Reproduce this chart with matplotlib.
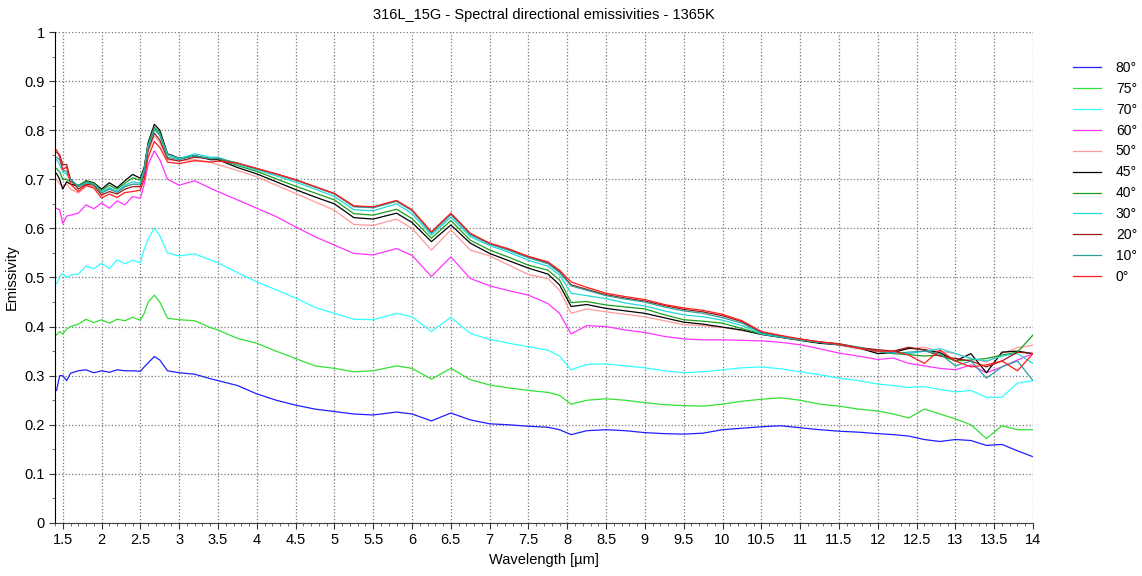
import matplotlib
matplotlib.use("Agg")
import matplotlib.pyplot as plt
from matplotlib.ticker import MultipleLocator, FuncFormatter

plt.rcParams['font.family'] = ['Liberation Sans', 'DejaVu Sans']

## Data
wl = [1.42, 1.46, 1.5, 1.55, 1.6, 1.7, 1.8, 1.9, 2.0, 2.1,
      2.2, 2.3, 2.4, 2.5, 2.55, 2.6, 2.68, 2.75, 2.85, 3.0,
      3.2, 3.4, 3.5, 3.75, 4.0, 4.25, 4.5, 4.75, 5.0, 5.25,
      5.5, 5.8, 6.0, 6.25, 6.5, 6.75, 7.0, 7.25, 7.5, 7.75,
      7.9, 8.05, 8.25, 8.5, 8.75, 9.0, 9.25, 9.5, 9.75, 10.0,
      10.25, 10.5, 10.75, 11.0, 11.25, 11.5, 11.75, 12.0, 12.2, 12.4,
      12.6, 12.8, 13.0, 13.2, 13.4, 13.6, 13.8, 14.0]

em_80 = [0.27, 0.30, 0.30, 0.29, 0.305, 0.31, 0.312, 0.306, 0.31, 0.307,
         0.312, 0.31, 0.31, 0.309, 0.318, 0.326, 0.339, 0.332, 0.31, 0.306,
         0.303, 0.294, 0.29, 0.28, 0.263, 0.25, 0.24, 0.232, 0.227, 0.222,
         0.22, 0.226, 0.222, 0.208, 0.224, 0.21, 0.202, 0.2, 0.197, 0.195,
         0.19, 0.18, 0.188, 0.19, 0.188, 0.184, 0.182, 0.181, 0.183, 0.19,
         0.193, 0.196, 0.198, 0.194, 0.19, 0.187, 0.185, 0.182, 0.18, 0.177,
         0.17, 0.166, 0.17, 0.168, 0.158, 0.16, 0.147, 0.135]

em_75 = [0.383, 0.39, 0.385, 0.395, 0.40, 0.405, 0.415, 0.408, 0.414, 0.407,
         0.415, 0.412, 0.419, 0.413, 0.427, 0.45, 0.464, 0.45, 0.417, 0.414,
         0.412, 0.398, 0.393, 0.376, 0.366, 0.35, 0.335, 0.32, 0.315, 0.308,
         0.31, 0.32, 0.315, 0.293, 0.315, 0.292, 0.281, 0.275, 0.27, 0.266,
         0.26, 0.242, 0.25, 0.253, 0.25, 0.245, 0.241, 0.239, 0.238, 0.242,
         0.248, 0.252, 0.255, 0.25, 0.242, 0.238, 0.232, 0.228, 0.222, 0.214,
         0.232, 0.222, 0.212, 0.2, 0.172, 0.198, 0.19, 0.19]

em_70 = [0.487, 0.502, 0.508, 0.50, 0.505, 0.507, 0.523, 0.518, 0.529, 0.518,
         0.536, 0.528, 0.535, 0.53, 0.558, 0.578, 0.601, 0.585, 0.55, 0.544,
         0.548, 0.536, 0.53, 0.51, 0.491, 0.475, 0.458, 0.439, 0.427, 0.415,
         0.414, 0.427, 0.42, 0.39, 0.419, 0.386, 0.374, 0.366, 0.359, 0.352,
         0.34, 0.312, 0.323, 0.324, 0.32, 0.316, 0.31, 0.306, 0.308, 0.312,
         0.316, 0.318, 0.314, 0.308, 0.302, 0.295, 0.29, 0.283, 0.28, 0.276,
         0.278, 0.272, 0.267, 0.27, 0.256, 0.256, 0.285, 0.29]

em_60 = [0.641, 0.638, 0.61, 0.625, 0.627, 0.631, 0.648, 0.64, 0.652, 0.641,
         0.656, 0.648, 0.665, 0.661, 0.69, 0.73, 0.758, 0.74, 0.70, 0.688,
         0.697, 0.682, 0.675, 0.658, 0.641, 0.624, 0.603, 0.583, 0.566, 0.549,
         0.546, 0.559, 0.545, 0.502, 0.542, 0.498, 0.483, 0.473, 0.464, 0.447,
         0.427, 0.385, 0.402, 0.40, 0.393, 0.388, 0.38, 0.375, 0.373, 0.373,
         0.372, 0.371, 0.368, 0.363, 0.355, 0.346, 0.34, 0.333, 0.336, 0.325,
         0.32, 0.315, 0.312, 0.322, 0.306, 0.318, 0.332, 0.345]

em_50 = [0.70, 0.69, 0.685, 0.69, 0.68, 0.672, 0.685, 0.685, 0.67, 0.683,
         0.675, 0.686, 0.69, 0.688, 0.71, 0.755, 0.788, 0.775, 0.74, 0.738,
         0.74, 0.735, 0.73, 0.718, 0.705, 0.688, 0.671, 0.654, 0.637, 0.608,
         0.606, 0.619, 0.60, 0.556, 0.597, 0.556, 0.544, 0.525, 0.506, 0.498,
         0.474, 0.427, 0.436, 0.43, 0.425, 0.42, 0.412, 0.404, 0.402, 0.398,
         0.392, 0.386, 0.38, 0.374, 0.368, 0.362, 0.355, 0.348, 0.35, 0.355,
         0.358, 0.35, 0.345, 0.335, 0.328, 0.345, 0.357, 0.362]

em_45 = [0.712, 0.70, 0.68, 0.695, 0.69, 0.686, 0.697, 0.693, 0.68, 0.693,
         0.683, 0.697, 0.71, 0.702, 0.725, 0.775, 0.812, 0.80, 0.752, 0.743,
         0.748, 0.74, 0.74, 0.724, 0.711, 0.695, 0.679, 0.664, 0.65, 0.622,
         0.619, 0.631, 0.612, 0.573, 0.607, 0.57, 0.549, 0.534, 0.519, 0.507,
         0.485, 0.441, 0.445, 0.437, 0.432, 0.427, 0.418, 0.409, 0.405, 0.399,
         0.393, 0.384, 0.378, 0.372, 0.366, 0.363, 0.357, 0.345, 0.347, 0.356,
         0.353, 0.347, 0.33, 0.345, 0.306, 0.348, 0.35, 0.345]

em_40 = [0.722, 0.715, 0.70, 0.70, 0.695, 0.688, 0.696, 0.692, 0.677, 0.688,
         0.68, 0.692, 0.703, 0.698, 0.722, 0.772, 0.806, 0.795, 0.75, 0.742,
         0.748, 0.742, 0.742, 0.728, 0.716, 0.701, 0.686, 0.672, 0.658, 0.63,
         0.627, 0.639, 0.62, 0.58, 0.616, 0.576, 0.556, 0.541, 0.525, 0.515,
         0.495, 0.449, 0.451, 0.444, 0.44, 0.436, 0.424, 0.414, 0.411, 0.407,
         0.396, 0.385, 0.379, 0.373, 0.368, 0.365, 0.358, 0.35, 0.345, 0.343,
         0.34, 0.342, 0.33, 0.332, 0.335, 0.342, 0.348, 0.383]

em_30 = [0.74, 0.73, 0.715, 0.71, 0.70, 0.685, 0.693, 0.69, 0.674, 0.683,
         0.676, 0.688, 0.695, 0.692, 0.718, 0.768, 0.80, 0.79, 0.75, 0.742,
         0.752, 0.745, 0.745, 0.73, 0.719, 0.707, 0.694, 0.68, 0.665, 0.638,
         0.636, 0.65, 0.63, 0.586, 0.623, 0.583, 0.565, 0.551, 0.535, 0.523,
         0.505, 0.468, 0.463, 0.457, 0.448, 0.442, 0.432, 0.424, 0.42, 0.413,
         0.402, 0.385, 0.379, 0.373, 0.368, 0.364, 0.358, 0.352, 0.348, 0.345,
         0.35, 0.355, 0.345, 0.335, 0.33, 0.34, 0.345, 0.325]

em_20 = [0.755, 0.75, 0.73, 0.73, 0.70, 0.68, 0.69, 0.688, 0.668, 0.675,
         0.67, 0.68, 0.685, 0.685, 0.71, 0.76, 0.794, 0.78, 0.742, 0.737,
         0.745, 0.742, 0.742, 0.733, 0.722, 0.711, 0.699, 0.685, 0.671, 0.645,
         0.643, 0.656, 0.637, 0.592, 0.63, 0.589, 0.569, 0.557, 0.542, 0.53,
         0.512, 0.485, 0.476, 0.465, 0.458, 0.452, 0.443, 0.435, 0.43, 0.422,
         0.41, 0.388, 0.381, 0.374, 0.369, 0.365, 0.357, 0.353, 0.35, 0.358,
         0.352, 0.34, 0.335, 0.33, 0.318, 0.33, 0.348, 0.345]

em_10 = [0.745, 0.74, 0.72, 0.715, 0.70, 0.685, 0.693, 0.69, 0.672, 0.68,
         0.673, 0.685, 0.69, 0.69, 0.715, 0.765, 0.803, 0.79, 0.745, 0.74,
         0.748, 0.742, 0.743, 0.733, 0.721, 0.71, 0.698, 0.684, 0.67, 0.644,
         0.642, 0.655, 0.636, 0.59, 0.628, 0.587, 0.568, 0.555, 0.54, 0.528,
         0.51, 0.483, 0.474, 0.463, 0.456, 0.45, 0.44, 0.432, 0.427, 0.418,
         0.407, 0.387, 0.38, 0.374, 0.368, 0.363, 0.356, 0.35, 0.345, 0.348,
         0.35, 0.345, 0.32, 0.33, 0.295, 0.318, 0.33, 0.29]

em_0 = [0.76, 0.745, 0.72, 0.725, 0.69, 0.675, 0.688, 0.682, 0.662, 0.67,
        0.663, 0.673, 0.675, 0.678, 0.70, 0.745, 0.777, 0.765, 0.735, 0.732,
        0.738, 0.735, 0.737, 0.733, 0.722, 0.711, 0.699, 0.685, 0.671, 0.646,
        0.644, 0.657, 0.638, 0.593, 0.631, 0.59, 0.57, 0.558, 0.543, 0.532,
        0.515, 0.491, 0.48, 0.468, 0.461, 0.455, 0.445, 0.438, 0.433, 0.425,
        0.412, 0.39, 0.382, 0.375, 0.369, 0.364, 0.356, 0.35, 0.35, 0.342,
        0.325, 0.352, 0.33, 0.318, 0.322, 0.33, 0.31, 0.345]

labels = ["80°", "75°", "70°", "60°", "50°", "45°", "40°", "30°", "20°", "10°", "0°"]
series = [em_80, em_75, em_70, em_60, em_50, em_45, em_40, em_30, em_20, em_10, em_0]
colors = ["#1f1fff", "#33e033", "#33ffff", "#ff33ff", "#ff9999", "#000000",
          "#1a9f1a", "#22d8d8", "#a01818", "#2aa0a0", "#ff1a1a"]

## Figure
fig = plt.figure(figsize=(11.42, 5.76), dpi=100)
ax = fig.add_axes([55 / 1142, 53 / 576, 978 / 1142, 491 / 576])

for vals, lab, col in zip(series, labels, colors):
    ax.plot(wl, vals, color=col, linewidth=0.9, label=lab)

ax.set_xlim(1.4, 14)
ax.set_ylim(0, 1)
ax.xaxis.set_major_locator(MultipleLocator(0.5))
ax.xaxis.set_minor_locator(MultipleLocator(0.1))
ax.yaxis.set_major_locator(MultipleLocator(0.1))
ax.yaxis.set_minor_locator(MultipleLocator(0.05))
ax.xaxis.set_major_formatter(FuncFormatter(lambda v, p: "%g" % round(v, 2)))
ax.yaxis.set_major_formatter(FuncFormatter(lambda v, p: "%g" % round(v, 2)))
ax.tick_params(axis="both", which="major", length=4, labelsize=10.5, color="#333333")
ax.tick_params(axis="both", which="minor", length=2, color="#555555")

ax.grid(True, which="major", linestyle=":", color="#777777", linewidth=0.9)
ax.spines["top"].set_visible(False)
ax.spines["right"].set_visible(False)
ax.spines["left"].set_color("black")
ax.spines["bottom"].set_color("#444444")

ax.set_xlabel("Wavelength [µm]", fontsize=10.5)
ax.set_ylabel("Emissivity", fontsize=10.5)
ax.set_title("316L_15G - Spectral directional emissivities - 1365K", fontsize=10.5, pad=9)

fig.legend(loc="upper left", bbox_to_anchor=(1063 / 1142, 1 - 51 / 576), frameon=False,
           fontsize=10, handlelength=2.0, labelspacing=0.5, handletextpad=1.1,
           borderaxespad=0.3)

fig.savefig("out.png", dpi=100)
